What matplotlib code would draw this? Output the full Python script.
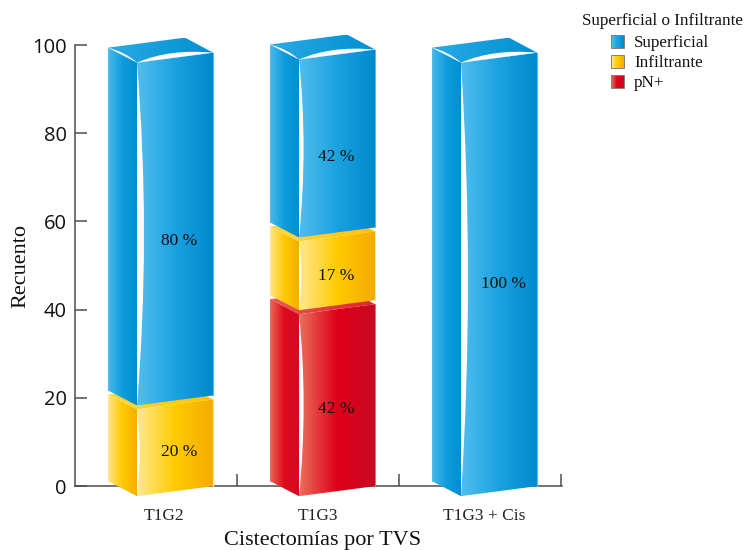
import matplotlib
matplotlib.use('Agg')
import matplotlib.pyplot as plt
from matplotlib.colors import LinearSegmentedColormap
from matplotlib.legend_handler import HandlerBase
from matplotlib.patches import Patch, PathPatch, Polygon, Rectangle
from matplotlib.path import Path
from matplotlib.transforms import ScaledTranslation
import numpy as np

categories = ['T1G2', 'T1G3', 'T1G3 + Cis']
superficial = [80, 41.67, 100]
infiltrante = [20, 16.67, 0]
pn = [0, 41.67, 0]
y_ticks = [0, 20, 40, 60, 80, 100]
series_names = ['Superficial', 'Infiltrante', 'pN+']

# colour stops: front face, side face, top face
blues = (['#52bdee', '#1aa2e0', '#0089cd'], ['#48b9ec', '#0f9cdc', '#008fd2'], ['#2aaae4', '#0090d2'])
yellows = (['#ffe88f', '#ffcb00', '#f5ab00'], ['#ffe68a', '#ffc800', '#f6ae00'], ['#ffd84a', '#ffc400'])
reds = (['#ea6f5c', '#df0019', '#c70a22'], ['#ea6655', '#dd0a1c', '#d50a20'], ['#ea5a56', '#e0242e'])

# one data unit in pixels, used to turn the box shape into data coordinates
PX_X = 1 / 162
PX_Y = 100 / 441
FONT = 'Liberation Serif'

fig = plt.figure(figsize=(7.46, 5.5), dpi=100)
ax = fig.add_axes([75 / 746, 64 / 550, 487 / 746, 441 / 550])


def gradient_face(points, stops, zorder):
    # horizontal gradient clipped to one face of the box
    pts = np.array(points)
    cmap = LinearSegmentedColormap.from_list('face', stops)
    im = ax.imshow(np.linspace(0, 1, 128).reshape(1, -1), cmap=cmap, aspect='auto', interpolation='bilinear',
                   extent=(pts[:, 0].min(), pts[:, 0].max(), pts[:, 1].min(), pts[:, 1].max()), zorder=zorder)
    clip = Polygon(pts, closed=True, transform=ax.transData)
    im.set_clip_box(fig.bbox)
    im.set_clip_path(clip)


def sliver(p0, p1, bulge, zorder):
    # thin white shine, straight on one side and curved on the other
    ctrl = ((p0[0] + p1[0]) / 2 + bulge[0] * PX_X, (p0[1] + p1[1]) / 2 + bulge[1] * PX_Y)
    path = Path([p0, ctrl, p1, p0], [Path.MOVETO, Path.CURVE3, Path.CURVE3, Path.CLOSEPOLY])
    ax.add_patch(PathPatch(path, fc='white', ec='none', zorder=zorder, clip_on=False))


def box(cx, low, high, colors, zorder, top, gain):
    front, side, roof = colors
    y0 = 1.1 + gain * low
    y1 = 1.1 + gain * high
    if low > 0:
        y0 += 4 * PX_Y
    left = cx - 48 * PX_X
    corner = cx - 19 * PX_X
    right = cx + 57 * PX_X
    back = cx + 29 * PX_X
    drop = 15 * PX_Y
    rdrop = 5 * PX_Y

    gradient_face([(left, y0), (left, y1), (corner, y1 - drop), (corner, y0 - drop)], side, zorder)
    gradient_face([(corner, y0 - drop), (corner, y1 - drop), (right, y1 - rdrop), (right, y0 - rdrop)], front, zorder + 0.1)
    gradient_face([(left, y1), (back, y1 + 10 * PX_Y), (right, y1 - rdrop), (corner, y1 - drop)], roof, zorder - 0.1)

    # pale outer edges
    edge = front[0]
    ax.plot([left, left], [y0, y1], color=edge, lw=0.8, zorder=zorder + 0.2, clip_on=False)
    ax.plot([right, right], [y0 - rdrop, y1 - rdrop], color=edge, lw=0.8, zorder=zorder + 0.2, clip_on=False)

    height_px = (y1 - y0) / PX_Y
    sliver((corner, y1 - drop), (corner, y0 - drop), (min(14, 2 + height_px * 0.04), 0), zorder + 0.3)
    if top:
        sliver((left, y1), (corner, y1 - drop), (3, 3), zorder + 0.3)
        sliver((corner, y1 - drop), (right, y1 - rdrop), (-6, 9), zorder + 0.3)


# stacks are built from the bottom up: pN+, Infiltrante, Superficial
label_drop = [[20, 10, 0], [20, 11, 15], [19, 0, 0]]
label_shift = [23, 18, 23]
stack_gain = [0.983, 0.99, 0.983]
for i in range(len(categories)):
    stack = [(pn[i], reds, 2), (infiltrante[i], yellows, 1), (superficial[i], blues, 0)]
    base = 0
    z = 3
    last = max(k for k, s in enumerate(stack) if s[0] > 0)
    for k, (val, colors, drop_idx) in enumerate(stack):
        if val == 0:
            continue
        box(i, base, base + val, colors, z, k == last, stack_gain[i])
        ax.annotate('%.0f %%' % val, (i + label_shift[i] * PX_X, base + val / 2), xytext=(0, -label_drop[i][drop_idx]),
                    textcoords='offset pixels', ha='center', va='center', family=FONT, fontsize=12.5,
                    color='#111111', zorder=10, annotation_clip=False)
        base += val
        z += 1

ax.set_xlim(-0.5, 2.5 + 1 * PX_X)
ax.set_ylim(0, 100)
for s in ['top', 'right']:
    ax.spines[s].set_visible(False)
for s in ['left', 'bottom']:
    ax.spines[s].set_color('#4d4d4d')
    ax.spines[s].set_linewidth(1.1)

ax.set_yticks(y_ticks)
ax.tick_params(axis='y', direction='in', length=8.6, width=1.1, color='#4d4d4d', pad=6)
for lab in ax.get_yticklabels():
    lab.set_family('Open Sans')
    lab.set_fontsize(14.5)
    lab.set_color('#111111')

ax.set_xticks([0, 1, 2])
ax.set_xticklabels(categories, family=FONT, fontsize=12.5, color='#222222')
ax.set_xticks([0.5, 1.5, 2.5], minor=True)
ax.tick_params(axis='x', which='major', length=0, pad=16)
ax.tick_params(axis='x', which='minor', direction='in', length=8.6, width=1.1, color='#4d4d4d')
for lab, dx in zip(ax.get_xticklabels(), [8, 0, 4]):
    lab.set_transform(lab.get_transform() + ScaledTranslation(dx / 100, 0, fig.dpi_scale_trans))

fig.text(323 / 746, 1 - 540 / 550, 'Cistectomías por TVS', family=FONT, fontsize=16, color='#111111', ha='center', va='center')
fig.text(21 / 746, 1 - 266 / 550, 'Recuento', family=FONT, fontsize=16, color='#111111', ha='center', va='center', rotation=90)


class GradientSwatch(HandlerBase):
    def create_artists(self, legend, orig, xd, yd, width, height, fontsize, trans):
        stops = orig.stops
        cmap = LinearSegmentedColormap.from_list('swatch', stops)
        arts = []
        n = 12
        for j in range(n):
            arts.append(Rectangle((-xd + width * j / n, -yd), width / n + 0.3, height, fc=cmap(j / (n - 1)), ec='none', transform=trans))
        arts.append(Rectangle((-xd, -yd), width, height, fc='none', ec='#8a7f70', lw=0.7, transform=trans))
        return arts


handles = []
for name, colors in zip(series_names, [blues, yellows, reds]):
    h = Patch(label=name)
    h.stops = colors[0]
    handles.append(h)

# title goes in separately so the entries can sit left of its centre
fig.text(663 / 746, 1 - 21 / 550, 'Superficial o Infiltrante', family=FONT, fontsize=12.3, color='#111111', ha='center', va='center')
leg = ax.legend(handles=handles, loc='upper left', bbox_to_anchor=(611 / 746, 1 - 35 / 550), bbox_transform=fig.transFigure,
                frameon=False, handler_map={Patch: GradientSwatch()},
                prop={'family': FONT, 'size': 12.3},
                handlelength=0.76, handleheight=0.76, handletextpad=0.6, labelspacing=0.216, borderaxespad=0, borderpad=0)
for t in leg.get_texts():
    t.set_color('#111111')
leg.set_zorder(20)

fig.savefig('out.png', dpi=100)
